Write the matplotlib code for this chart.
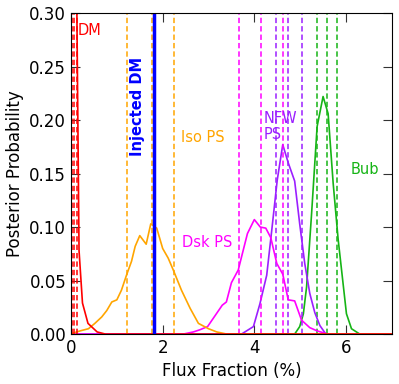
import numpy as np
import matplotlib
matplotlib.use("Agg")
import matplotlib.pyplot as plt

# posterior curves (flux fraction %, probability)
dm_x = [0.0, 0.065, 0.13, 0.175, 0.25, 0.37, 0.57, 0.75, 7.0]
dm_y = [1.0, 0.6, 0.29, 0.078, 0.029, 0.010, 0.002, 0.0, 0.0]

iso_x = [0.0, 0.05, 0.2, 0.38, 0.52, 0.67, 0.78, 0.89, 1.0, 1.1, 1.21, 1.32, 1.40,
         1.5, 1.64, 1.74, 1.87, 2.0, 2.12, 2.23, 2.41, 2.6, 2.78, 3.0, 3.18, 3.4, 7.0]
iso_y = [0.0, 0.001, 0.003, 0.005, 0.010, 0.016, 0.022, 0.030, 0.032, 0.041, 0.055,
         0.068, 0.082, 0.092, 0.084, 0.103, 0.099, 0.080, 0.071, 0.060, 0.041, 0.024,
         0.010, 0.005, 0.002, 0.0, 0.0]

dsk_x = [0.0, 2.45, 2.67, 2.81, 2.98, 3.14, 3.30, 3.39, 3.50, 3.65, 3.72, 3.85, 4.0,
         4.13, 4.25, 4.36, 4.49, 4.62, 4.74, 4.88, 5.03, 5.21, 5.37, 5.6, 7.0]
dsk_y = [0.0, 0.0, 0.002, 0.004, 0.007, 0.017, 0.027, 0.030, 0.048, 0.060, 0.072,
         0.094, 0.107, 0.100, 0.099, 0.090, 0.066, 0.056, 0.032, 0.031, 0.013, 0.006,
         0.003, 0.0, 0.0]

nfw_x = [0.0, 3.72, 3.98, 4.12, 4.27, 4.38, 4.50, 4.62, 4.74, 4.88, 4.99, 5.10,
         5.21, 5.32, 5.43, 5.56, 7.0]
nfw_y = [0.0, 0.0, 0.007, 0.028, 0.055, 0.097, 0.144, 0.177, 0.160, 0.143, 0.103,
         0.066, 0.038, 0.020, 0.008, 0.0, 0.0]

bub_x = [0.0, 4.88, 4.99, 5.07, 5.14, 5.25, 5.37, 5.50, 5.61, 5.72, 5.83, 6.01,
         6.12, 6.3, 7.0]
bub_y = [0.0, 0.0, 0.007, 0.019, 0.044, 0.113, 0.194, 0.222, 0.206, 0.141, 0.088,
         0.019, 0.005, 0.0, 0.0]

# 16/50/84 percentile lines
dm_q = [0.015, 0.065, 0.12]
iso_q = [1.23, 1.77, 2.25]
dsk_q = [3.67, 4.14, 4.62]
nfw_q = [4.47, 4.74, 5.04]
bub_q = [5.37, 5.58, 5.81]
injected = 1.8

c_dm = "#ff0000"
c_iso = "#ffa500"
c_dsk = "#ff00ff"
c_nfw = "#9b1fff"
c_bub = "#16b416"

fig = plt.figure(figsize=(3.99, 3.84), dpi=100)
ax = fig.add_axes([0.178, 0.130, 0.804, 0.836])

for xs, ys, qs, c in [(bub_x, bub_y, bub_q, c_bub), (nfw_x, nfw_y, nfw_q, c_nfw),
                      (dsk_x, dsk_y, dsk_q, c_dsk), (iso_x, iso_y, iso_q, c_iso),
                      (dm_x, dm_y, dm_q, c_dm)]:
    ax.plot(xs, ys, color=c, lw=1.2)
    for q in qs:
        ax.axvline(q, color=c, ls="--", lw=1.1, dashes=(3.5, 2))

ax.axvline(injected, color="#0000ff", lw=2.5)

ax.text(0.15, 0.284, "DM", color=c_dm, fontsize=10.5, va="center")
ax.text(1.44, 0.213, "Injected DM", color="#0000ff", fontsize=10.5,
        fontweight="bold", rotation=90, ha="center", va="center")
ax.text(2.4, 0.184, "Iso PS", color=c_iso, fontsize=10.5, va="center")
ax.text(2.42, 0.086, "Dsk PS", color=c_dsk, fontsize=10.5, va="center")
ax.text(4.2, 0.194, "NFW\nPS", color=c_nfw, fontsize=10.5, va="center",
        linespacing=1.1)
ax.text(6.1, 0.154, "Bub", color=c_bub, fontsize=10.5, va="center")

ax.set_xlim(0, 7)
ax.set_ylim(0, 0.30)
ax.set_xticks([0, 2, 4, 6])
ax.set_yticks(np.arange(0, 0.31, 0.05))
ax.set_yticklabels(["%.2f" % v for v in np.arange(0, 0.31, 0.05)])
ax.tick_params(direction="in", length=6.5, width=0.8, top=True, right=True,
               labelsize=12, color="#333333")
ax.set_xlabel("Flux Fraction (%)", fontsize=12)
ax.set_ylabel("Posterior Probability", fontsize=12)

fig.savefig("out.png", dpi=100)
